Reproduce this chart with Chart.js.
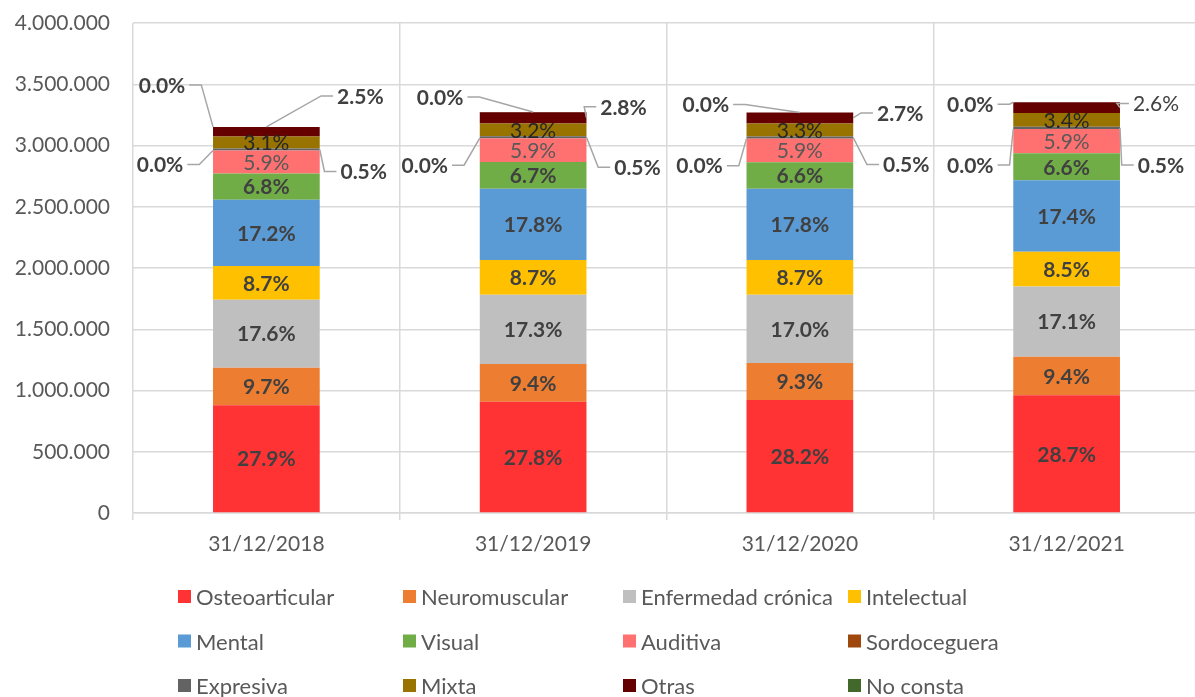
<!DOCTYPE html>
<html>
<head>
<meta charset="utf-8">
<script src="https://cdn.jsdelivr.net/npm/chart.js@4/dist/chart.umd.min.js"></script>
<style>
  html, body { margin: 0; padding: 0; background: #fff; overflow: hidden; }
  #wrap { width: 1200px; height: 697px; }
</style>
</head>
<body>
<div id="wrap"><canvas id="chart" width="1200" height="697"></canvas></div>
<script>
// Personas con discapacidad por tipo, a 31 de diciembre de cada año
const fechas = ['31/12/2018', '31/12/2019', '31/12/2020', '31/12/2021'];

const osteoarticular    = [880000, 908500, 921600, 961200];
const neuromuscular     = [306000, 307200, 303900, 314800];
const enfermedadCronica = [555000, 565400, 555600, 572700];
const intelectual       = [274400, 284300, 284300, 284700];
const mental            = [542500, 581700, 581700, 582700];
const visual            = [214500, 219000, 215700, 221000];
const auditiva          = [186100, 192800, 192800, 197600];
const sordoceguera      = [700, 700, 700, 700];
const expresiva         = [15800, 16300, 16400, 16700];
const mixta             = [97800, 104600, 107800, 113900];
const otras             = [78900, 91500, 88200, 87100];
const noConsta          = [300, 1200, 1200, 300];

const yMax = 4000000;
const yStep = 500000;

const series = [
  ['Osteoarticular', osteoarticular, '#ff3333'],
  ['Neuromuscular', neuromuscular, '#ed7d31'],
  ['Enfermedad crónica', enfermedadCronica, '#bfbfbf'],
  ['Intelectual', intelectual, '#ffc000'],
  ['Mental', mental, '#5b9bd5'],
  ['Visual', visual, '#70ad47'],
  ['Auditiva', auditiva, '#ff7070'],
  ['Sordoceguera', sordoceguera, '#9e480e'],
  ['Expresiva', expresiva, '#636363'],
  ['Mixta', mixta, '#997300'],
  ['Otras', otras, '#640000'],
  ['No consta', noConsta, '#43682b']
];

const totals = fechas.map((_, j) => series.reduce((s, d) => s + d[1][j], 0));

// labels placed beside the bar: [anchor side, dx, dy, weight]
const callouts = {
  'No consta':    [['l', -51, -42], ['c', -93, -15], ['c', -94, -8], ['l', -43, 2]],
  'Otras':        [['c', 94, -31], ['r', 37, -11], ['r', 47, -5], ['r', 36, -4, 'normal']],
  'Sordoceguera': [['l', -53, 14], ['l', -55, 27], ['l', -47, 27], ['l', -43, 36]],
  'Expresiva':    [['r', 44, 22], ['r', 51, 30], ['r', 53, 27], ['r', 41, 37]]
};

const inlineStyle = {
  'Auditiva': { weight: 'normal', color: '#595959' },
  'Mixta': { weight: 'normal', color: '#262626' }
};

const FONT = 'Lato, "Open Sans", sans-serif';

const segLabels = {
  id: 'segLabels',
  afterDatasetsDraw(chart) {
    const ctx = chart.ctx;
    ctx.save();
    ctx.textAlign = 'center';
    ctx.textBaseline = 'middle';
    chart.data.datasets.forEach((ds, i) => {
      const meta = chart.getDatasetMeta(i);
      meta.data.forEach((bar, j) => {
        const text = (ds.data[j] / totals[j] * 100).toFixed(1) + '%';
        const mid = (bar.y + bar.base) / 2;
        const c = callouts[ds.label];
        if (!c) {
          const st = inlineStyle[ds.label] || { weight: 'bold', color: '#404040' };
          ctx.font = st.weight + ' 21px ' + FONT;
          ctx.fillStyle = st.color;
          ctx.fillText(text, bar.x, mid + 1);
          return;
        }
        const [side, dx, dy, weight] = c[j];
        const px = side === 'l' ? bar.x - bar.width / 2 : side === 'r' ? bar.x + bar.width / 2 : bar.x;
        const py = side === 'c' ? bar.y : mid;
        const tx = px + dx, ty = py + dy;
        ctx.font = (weight || 'bold') + ' 21px ' + FONT;
        const w = ctx.measureText(text).width;
        const dir = dx < 0 ? 1 : -1;
        const sx = tx + dir * (w / 2 + 4);
        ctx.strokeStyle = '#a6a6a6';
        ctx.lineWidth = 1.5;
        ctx.beginPath();
        ctx.moveTo(sx, ty);
        ctx.lineTo(sx + dir * 12, ty);
        ctx.lineTo(px, py);
        ctx.stroke();
        ctx.fillStyle = '#404040';
        ctx.fillText(text, tx, ty + 1);
      });
    });
    ctx.restore();
  }
};

// legend laid out in a 4-column grid under the axis
const gridLegend = {
  id: 'gridLegend',
  afterDraw(chart, args, opts) {
    const ctx = chart.ctx;
    ctx.save();
    ctx.font = '22px ' + FONT;
    ctx.textBaseline = 'middle';
    ctx.textAlign = 'left';
    chart.data.datasets.forEach((ds, i) => {
      const x = opts.cols[i % 4];
      const y = opts.top + Math.floor(i / 4) * opts.rowGap;
      ctx.fillStyle = ds.backgroundColor;
      ctx.fillRect(x, y - 7, 13, 13);
      ctx.fillStyle = '#595959';
      ctx.fillText(ds.label, x + 18, y + 1);
    });
    ctx.restore();
  }
};

const thousands = v => String(v).replace(/\B(?=(\d{3})+(?!\d))/g, '.');

new Chart(document.getElementById('chart').getContext('2d'), {
  type: 'bar',
  data: {
    labels: fechas,
    datasets: series.map(([label, data, color]) => ({
      label, data, backgroundColor: color,
      barPercentage: 0.4, categoryPercentage: 1
    }))
  },
  options: {
    responsive: false,
    animation: false,
    layout: { padding: { top: 23, right: 0, bottom: 127, left: 0 } },
    plugins: {
      legend: { display: false },
      tooltip: { enabled: false },
      gridLegend: { cols: [178, 403, 623, 848], top: 597, rowGap: 44.5 }
    },
    scales: {
      x: {
        stacked: true,
        grid: { color: '#d9d9d9', lineWidth: 1.5, tickLength: 7, offset: true },
        border: { color: '#d9d9d9', width: 1.5 },
        ticks: { color: '#595959', font: { family: FONT, size: 21 }, padding: 12 },
        afterFit(s) { s.height = 57; }
      },
      y: {
        stacked: true,
        min: 0,
        max: yMax,
        grid: { color: '#d9d9d9', lineWidth: 1.5, drawTicks: false },
        border: { display: false },
        ticks: {
          stepSize: yStep,
          color: '#595959',
          font: { family: FONT, size: 21 },
          padding: 23,
          callback: v => thousands(v)
        },
        afterFit(s) {
          s.width = 133;
          s.paddingTop = 0;
          s.paddingBottom = 0;
        }
      }
    }
  },
  plugins: [segLabels, gridLegend]
});
</script>
</body>
</html>
